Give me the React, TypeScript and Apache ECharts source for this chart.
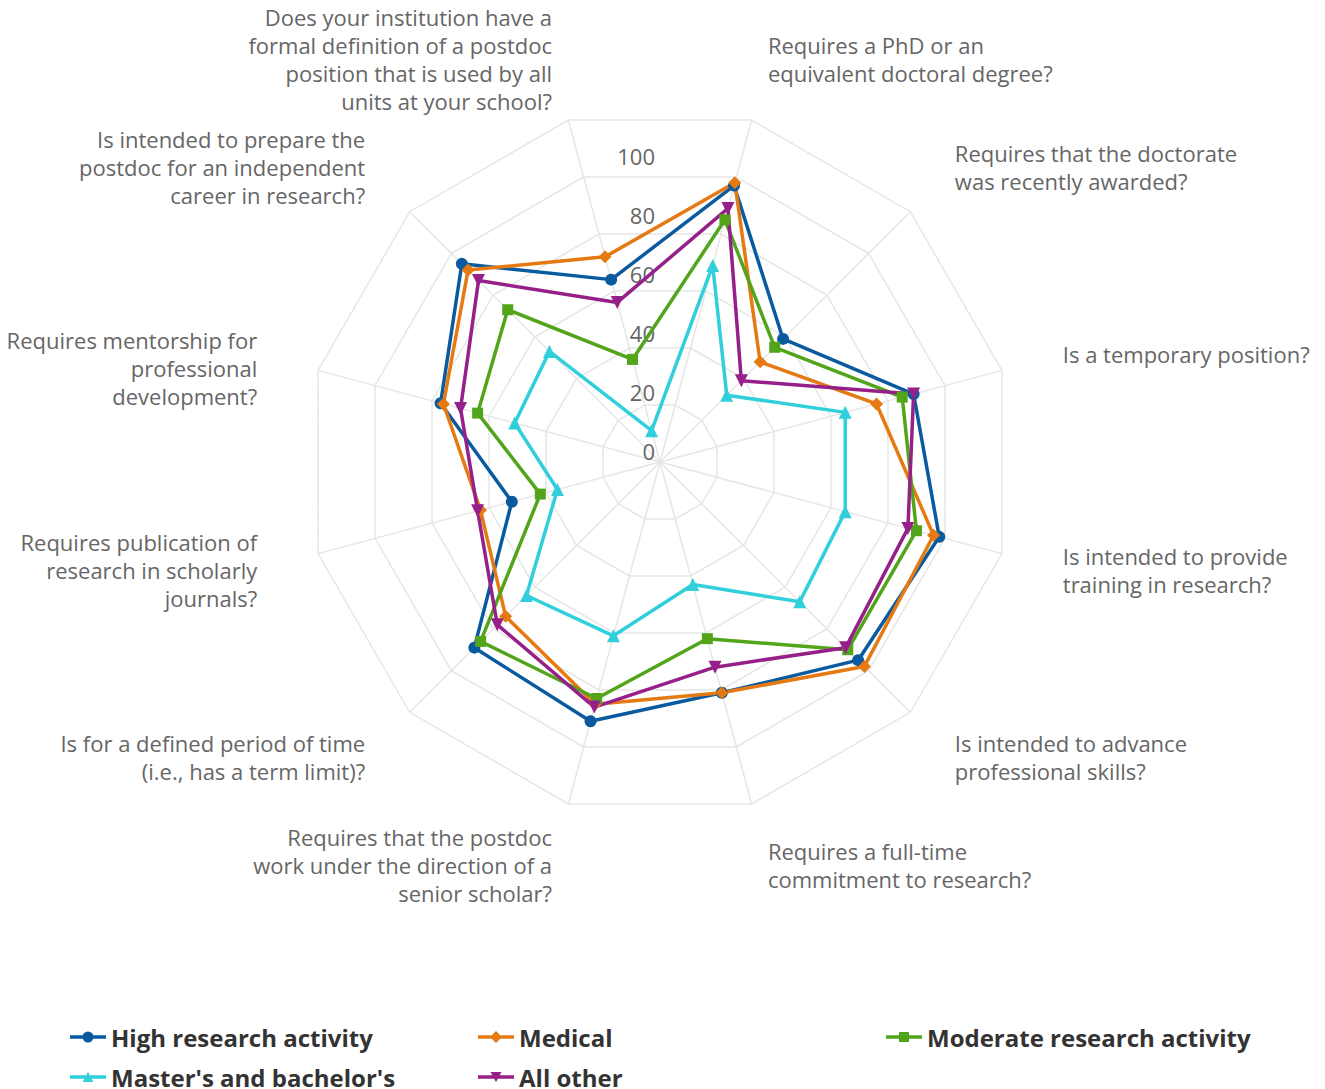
import React, { useEffect, useRef } from "react";
import * as echarts from "echarts";

// Indicators in clockwise order, starting at the upper-right spoke
const indicatorNames = [
  "Requires a PhD or an\nequivalent doctoral degree?",
  "Requires that the doctorate\nwas recently awarded?",
  "Is a temporary position?",
  "Is intended to provide\ntraining in research?",
  "Is intended to advance\nprofessional skills?",
  "Requires a full-time\ncommitment to research?",
  "Requires that the postdoc\nwork under the direction of a\nsenior scholar?",
  "Is for a defined period of time\n(i.e., has a term limit)?",
  "Requires publication of\nresearch in scholarly\njournals?",
  "Requires mentorship for\nprofessional\ndevelopment?",
  "Is intended to prepare the\npostdoc for an independent\ncareer in research?",
  "Does your institution have a\nformal definition of a postdoc\nposition that is used by all\nunits at your school?",
];

const tickValues = [0, 20, 40, 60, 80, 100];
const axisMax = 120;

const seriesNames = [
  "High research activity",
  "Medical",
  "Moderate research activity",
  "Master's and bachelor's",
  "All other",
];

const highResearch = [97, 59, 89, 98, 95, 81, 91, 89, 52, 77, 95, 64];
const medical = [98, 48, 76, 96, 98, 81, 85, 74, 63, 76, 92, 72];
const moderateResearch = [85, 55, 85, 90, 90, 62, 83, 86, 42, 64, 73, 36];
const mastersBachelors = [69, 32, 65, 65, 67, 43, 61, 64, 36, 51, 53, 11];
const allOther = [89, 39, 89, 87, 89, 72, 86, 78, 64, 70, 87, 56];

const seriesValues = [highResearch, medical, moderateResearch, mastersBachelors, allOther];
const colors = ["#0a5a9f", "#e57a12", "#52a51a", "#30cfdb", "#962089"];
const symbols = ["circle", "diamond", "rect", "triangle", "path://M0,0L10,0L5,9Z"];
const symbolSizes = [12, 13, 11, 13, 13];

const FONT = "'Open Sans', 'Noto Sans', sans-serif";

// bbox anchors so every legend icon spans 0..36 x 0..12
const anchors = "M0,0l0.01,0l0,0.01z M36,12l-0.01,0l0,-0.01z ";
const lineBar = "M0,4.25h36v3.5h-36z ";
const legendIcons = [
  "path://" + anchors + lineBar + "M12.5,6a5.5,5.5 0 1,1 11,0a5.5,5.5 0 1,1 -11,0z",
  "path://" + anchors + lineBar + "M18,0L24,6L18,12L12,6z",
  "path://" + anchors + lineBar + "M13,1h10v10h-10z",
  "path://" + anchors + lineBar + "M12.5,11L18,1L23.5,11z",
  "path://" + anchors + lineBar + "M12.5,1L23.5,1L18,11z",
];

// ECharts places indicators counter-clockwise; reorder so the reference's clockwise order appears
const order = [0, 11, 10, 9, 8, 7, 6, 5, 4, 3, 2, 1];

export default function App() {
  const ref = useRef<HTMLDivElement>(null);

  useEffect(() => {
    if (!ref.current) return;
    const chart = echarts.init(ref.current, undefined, { renderer: "svg" });
    const mentorName = indicatorNames[9];

    const option: any = {
      animation: false,
      backgroundColor: "#ffffff",
      textStyle: { fontFamily: FONT },
      polar: { center: [660, 462], radius: 354 },
      angleAxis: { show: false, startAngle: 90, min: 0, max: 360 },
      radiusAxis: {
        min: 0,
        max: axisMax,
        interval: 20,
        z: 0,
        axisLine: { show: false },
        axisTick: { show: false },
        splitLine: { show: false },
        axisLabel: {
          margin: 5,
          verticalAlign: "bottom",
          color: "#666666",
          fontSize: 22,
          fontFamily: FONT,
          formatter: (v: number) => (tickValues.includes(v) ? String(v) : ""),
        },
      },
      radar: {
        center: [660, 462],
        radius: 354,
        startAngle: 75,
        shape: "polygon",
        splitNumber: 6,
        nameGap: 63,
        indicator: order.map((i) => ({ name: indicatorNames[i], min: 0, max: axisMax })),
        axisName: {
          color: "#666666",
          fontSize: 22,
          lineHeight: 28,
          fontFamily: FONT,
          formatter: (name: string) => (name === mentorName ? "\n" + name : name),
        },
        axisLine: { lineStyle: { color: "#e6e6e6", width: 1.5 } },
        splitLine: { lineStyle: { color: "#e6e6e6", width: 1.5 } },
        splitArea: { show: false },
        axisTick: { show: false },
        axisLabel: { show: false },
      },
      legend: {
        top: 1017,
        left: 70,
        width: 1240,
        padding: 0,
        itemGap: 0,
        itemWidth: 36,
        itemHeight: 12,
        selectedMode: false,
        itemStyle: { borderWidth: 0 },
        textStyle: {
          fontSize: 24,
          fontWeight: "bold",
          color: "#333333",
          fontFamily: FONT,
          width: 367,
          lineHeight: 40,
        },
        data: seriesNames.map((n, i) => ({ name: n, icon: legendIcons[i] })),
      },
      series: [
        {
          type: "scatter",
          coordinateSystem: "polar",
          data: [],
          silent: true,
        },
        ...seriesNames.map((name, s) => ({
          type: "radar",
          name,
          z: 3,
          symbol: symbols[s],
          symbolSize: symbolSizes[s],
          itemStyle: { color: colors[s] },
          lineStyle: { color: colors[s], width: 3.5 },
          data: [
            {
              name,
              value: order.map((i) => seriesValues[s][i]),
              symbol: symbols[s],
              symbolSize: symbolSizes[s],
              itemStyle: { color: colors[s] },
              lineStyle: { color: colors[s], width: 3.5 },
            },
          ],
        })),
      ],
    };

    chart.setOption(option);
    return () => {
      chart.dispose();
    };
  }, []);

  return (
    <div
      ref={ref}
      style={{ position: "absolute", left: 0, top: 0, width: 1325, height: 1089 }}
    />
  );
}
